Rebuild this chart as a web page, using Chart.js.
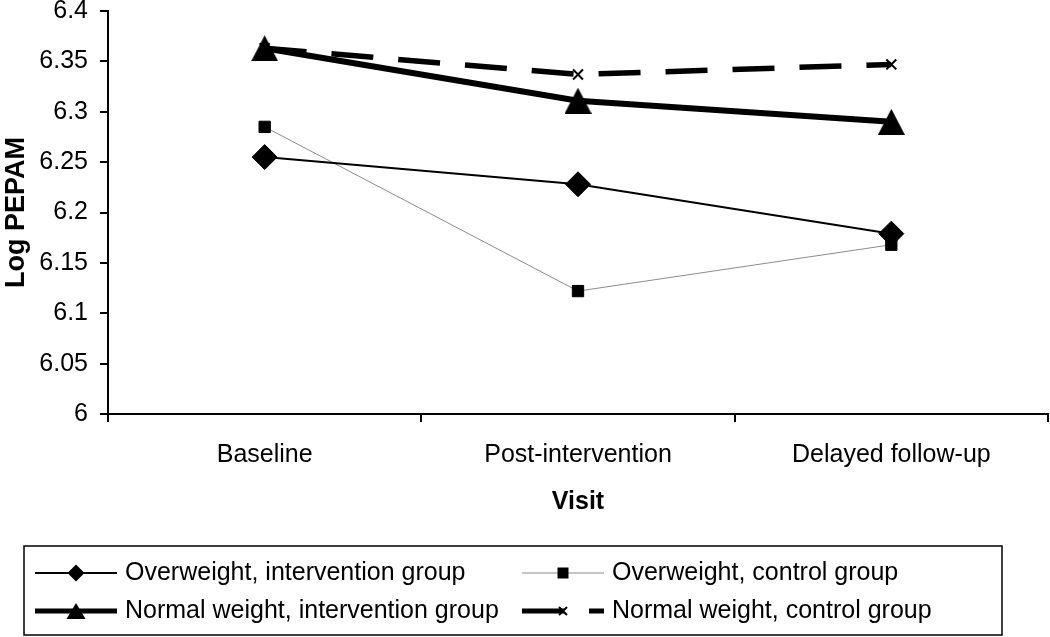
<!DOCTYPE html>
<html><head><meta charset="utf-8">
<script src="https://cdn.jsdelivr.net/npm/chart.js@4/dist/chart.umd.min.js"></script>
<style>html,body{margin:0;padding:0;background:#fff;}#wrap{width:1050px;height:637px;position:relative;}</style>
</head><body><div id="wrap"><canvas id="c" width="1050" height="637"></canvas></div>
<script>
const categories = ['Baseline', 'Post-intervention', 'Delayed follow-up'];
const seriesNames = ['Overweight, intervention group', 'Overweight, control group', 'Normal weight, intervention group', 'Normal weight, control group'];
const overweightIntervention = [6.255, 6.228, 6.179];
const overweightControl = [6.285, 6.122, 6.168];
const normalIntervention = [6.363, 6.311, 6.290];
const normalControl = [6.363, 6.337, 6.347];
const yTicks = [6, 6.05, 6.1, 6.15, 6.2, 6.25, 6.3, 6.35, 6.4];
const yTickLabels = ['6', '6.05', '6.1', '6.15', '6.2', '6.25', '6.3', '6.35', '6.4'];
const xTitle = 'Visit';
const yTitle = 'Log PEPAM';

const FONT = "'Liberation Sans', Arial, Helvetica, sans-serif";

function triCanvas(w, h) {
  const c = document.createElement('canvas');
  c.width = w; c.height = h;
  const g = c.getContext('2d');
  g.fillStyle = '#000';
  g.beginPath(); g.moveTo(w / 2, 0); g.lineTo(w, h); g.lineTo(0, h); g.closePath(); g.fill();
  return c;
}
const triBig = triCanvas(27, 26);

const legendPlugin = {
  id: 'boxLegend',
  afterDraw(chart) {
    const ctx = chart.ctx;
    ctx.save();
    ctx.strokeStyle = '#000';
    ctx.lineWidth = 1.5;
    ctx.strokeRect(24, 546, 978, 89);
    const colX = [35, 522];
    const rowY = [573, 611];
    const slots = [[0, 0], [1, 0], [0, 1], [1, 1]];
    chart.data.datasets.forEach((ds, i) => {
      const [col, row] = slots[i];
      const x0 = colX[col], x1 = x0 + 82, y = rowY[row], xm = x0 + 41;
      ctx.save();
      ctx.strokeStyle = ds.borderColor;
      ctx.lineWidth = ds.legendLineWidth;
      ctx.lineCap = 'butt';
      ctx.setLineDash(ds.borderDash || []);
      ctx.beginPath(); ctx.moveTo(x0, y); ctx.lineTo(x1, y); ctx.stroke();
      ctx.setLineDash([]);
      ctx.fillStyle = '#000'; ctx.strokeStyle = '#000';
      const st = ds.pointStyle;
      if (st === 'rectRot') {
        const r = 8.5;
        ctx.beginPath(); ctx.moveTo(xm, y - r); ctx.lineTo(xm + r, y); ctx.lineTo(xm, y + r); ctx.lineTo(xm - r, y); ctx.closePath(); ctx.fill();
      } else if (st === 'rect') {
        const s = 5.5;
        ctx.fillRect(xm - s, y - s, 2 * s, 2 * s);
      } else if (st === 'crossRot') {
        const s = 4; ctx.lineWidth = 2;
        ctx.beginPath(); ctx.moveTo(xm - s, y - s); ctx.lineTo(xm + s, y + s); ctx.moveTo(xm + s, y - s); ctx.lineTo(xm - s, y + s); ctx.stroke();
      } else {
        const w = 19, h = 16;
        ctx.beginPath(); ctx.moveTo(xm, y - h / 2); ctx.lineTo(xm + w / 2, y + h / 2); ctx.lineTo(xm - w / 2, y + h / 2); ctx.closePath(); ctx.fill();
      }
      ctx.fillStyle = '#000';
      ctx.font = '25px ' + FONT;
      ctx.textBaseline = 'middle';
      ctx.textAlign = 'left';
      ctx.fillText(ds.label, x1 + 8, y);
      ctx.restore();
    });
    ctx.restore();
  }
};

new Chart(document.getElementById('c'), {
  type: 'line',
  data: {
    labels: categories,
    datasets: [
      { label: seriesNames[0], data: overweightIntervention, borderColor: '#000', borderWidth: 2, legendLineWidth: 2,
        pointStyle: 'rectRot', pointRadius: 12.5, pointBackgroundColor: '#000', pointBorderColor: '#000', pointBorderWidth: 1 },
      { label: seriesNames[1], data: overweightControl, borderColor: '#8c8c8c', borderWidth: 1, legendLineWidth: 1,
        pointStyle: 'rect', pointRadius: 8, pointBackgroundColor: '#000', pointBorderColor: '#000', pointBorderWidth: 1 },
      { label: seriesNames[2], data: normalIntervention, borderColor: '#000', borderWidth: 6, legendLineWidth: 5,
        pointStyle: triBig, pointRadius: 13, pointBackgroundColor: '#000', pointBorderColor: '#000' },
      { label: seriesNames[3], data: normalControl, borderColor: '#000', borderWidth: 5.5, legendLineWidth: 5, borderDash: [42, 25], borderCapStyle: 'butt',
        pointStyle: 'crossRot', pointRadius: 7, pointBackgroundColor: '#000', pointBorderColor: '#000', pointBorderWidth: 2 }
    ]
  },
  options: {
    responsive: false,
    devicePixelRatio: 1,
    animation: false,
    layout: { autoPadding: false, padding: { left: 0, right: 2, top: 11, bottom: 120 } },
    elements: { line: { tension: 0, fill: false } },
    plugins: { legend: { display: false }, tooltip: { enabled: false } },
    scales: {
      x: {
        type: 'category', offset: true,
        grid: { display: true, offset: true, drawOnChartArea: false, drawTicks: true, tickLength: 8, color: '#000', lineWidth: 2 },
        border: { display: true, color: '#000', width: 2 },
        ticks: { color: '#000', font: { family: FONT, size: 25 }, padding: 18, maxRotation: 0, autoSkip: false },
        title: { display: true, text: xTitle, color: '#000', font: { family: FONT, size: 25, weight: 'bold' }, padding: { top: 0, bottom: 0 } },
        afterFit(s) { s.height = 103; s.paddingLeft = 0; s.paddingRight = 0; }
      },
      y: {
        min: 6, max: 6.4,
        afterBuildTicks(s) { s.ticks = yTicks.map(v => ({ value: v })); },
        grid: { display: true, drawOnChartArea: false, drawTicks: true, tickLength: 8, color: '#000', lineWidth: 2 },
        border: { display: true, color: '#000', width: 2 },
        ticks: { color: '#000', font: { family: FONT, size: 25 }, padding: 12, callback: (v, i) => yTickLabels[i] },
        title: { display: true, text: yTitle, color: '#000', font: { family: FONT, size: 27, weight: 'bold' }, padding: { top: 0, bottom: 0 } },
        afterFit(s) { s.width = 108; s.paddingTop = 0; s.paddingBottom = 0; }
      }
    }
  },
  plugins: [legendPlugin]
});
</script></body></html>
